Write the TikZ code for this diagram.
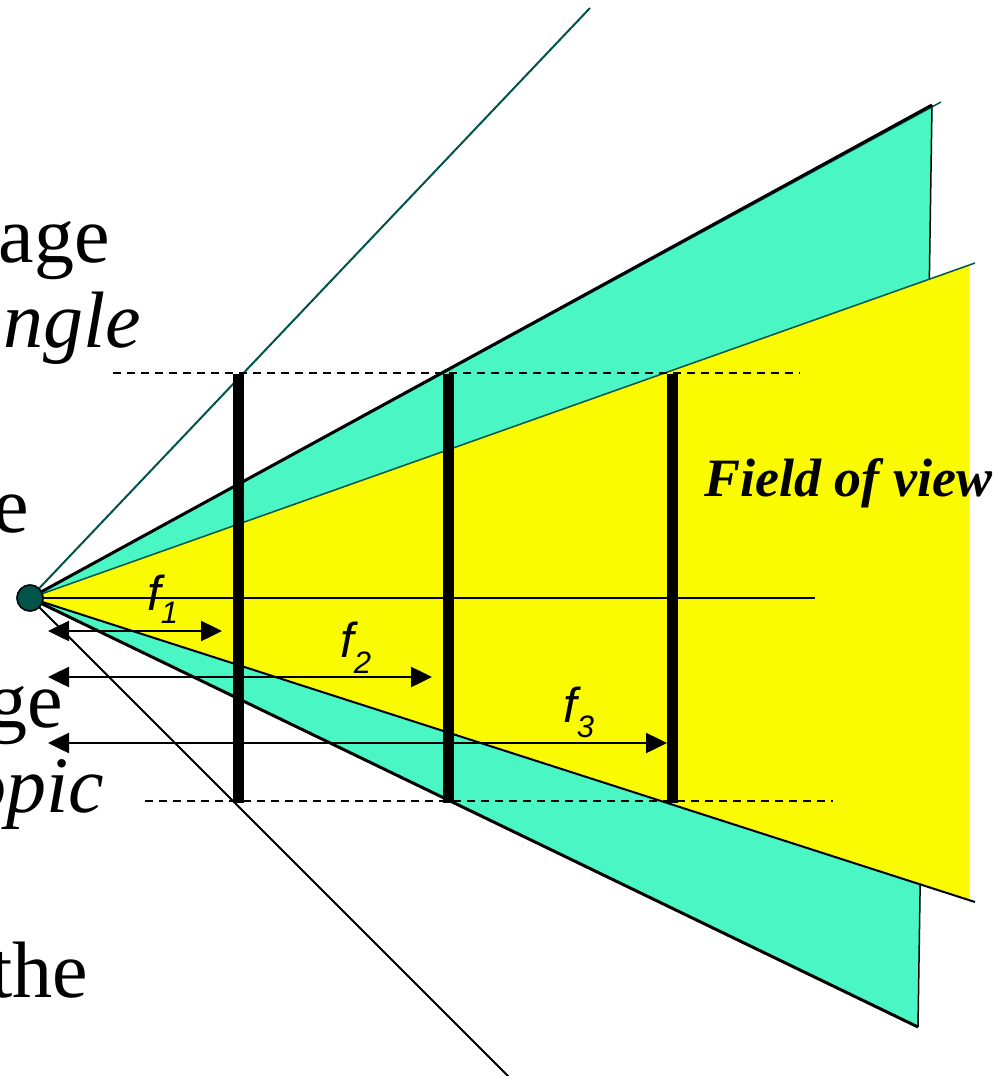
\documentclass[tikz,border=0pt]{standalone}
\usepackage{fontspec}
\setmainfont{Liberation Serif}
\newfontfamily\flabelfont{Liberation Sans}
\usetikzlibrary{arrows.meta}
\definecolor{fovteal}{RGB}{74,246,196}
\definecolor{fovyellow}{RGB}{250,250,0}
\definecolor{fovdark}{RGB}{0,84,74}

\begin{document}
\begin{tikzpicture}[x=1pt,y=-1pt,
  sidetext/.style={anchor=base east,inner sep=0pt,font=\fontsize{80}{80}\selectfont},
  flabel/.style={anchor=base west,inner sep=0pt,font=\flabelfont\itshape\fontsize{49}{49}\selectfont},
  lensbar/.style={line width=11pt},
  dimarrow/.style={line width=2.5pt,{Triangle[length=21pt,width=20pt]}-{Triangle[length=21pt,width=20pt]}},
  guide/.style={line width=1.5pt,dash pattern=on 8pt off 6pt}]
\path[use as bounding box] (0,0) rectangle (1005,1076);
% apex and fan corners
\coordinate (O) at (30,598);
\coordinate (wtop) at (932,105);
\coordinate (wtopx) at (941,102);
\coordinate (wbot) at (918,1027);
\coordinate (ntop) at (975,263);
\coordinate (nbot) at (975,902);
\coordinate (ytop) at (969,265);
\coordinate (ybot) at (969,899);
\coordinate (rayup) at (590,8);
\coordinate (raydown) at (512,1080);
\coordinate (axisend) at (815,598);
% fans
\fill[fovteal] (O) -- (wtop) -- (wbot) -- cycle;
\draw[line width=1.5pt] (wtop) -- (wbot);
\fill[fovyellow] (O) -- (ytop) -- (ybot) -- cycle;
\draw[fovdark,line width=1.5pt] (O) -- (wtopx);
\draw[line width=3pt] (O) -- (wtop);
\draw[line width=3pt] (O) -- (wbot);
\draw[fovdark,line width=1.5pt] (O) -- (ntop);
\draw[line width=2pt] (O) -- (nbot);
% outer rays and axis
\draw[fovdark,line width=2pt] (O) -- (rayup);
\draw[line width=2pt] (O) -- (raydown);
\draw[line width=2.5pt] (O) -- (axisend);
% guides
\coordinate (gtl) at (113,373); \coordinate (gtr) at (800,373);
\coordinate (gbl) at (145,801); \coordinate (gbr) at (833,801);
\draw[guide] (gtl) -- (gtr);
\draw[guide] (gbl) -- (gbr);
% image planes
\foreach \x/\n in {238/1,448/2,672/3} {
  \coordinate (bartop\n) at (\x,374);
  \coordinate (barbot\n) at (\x,803);
  \draw[lensbar] (bartop\n) -- (barbot\n);
}
% focal lengths
\foreach \y/\xe/\n in {631/222/1,677/432/2,743/667/3} {
  \coordinate (fs\n) at (48,\y);
  \coordinate (fe\n) at (\xe,\y);
  \draw[dimarrow] (fs\n) -- (fe\n);
}
\node[flabel] (fone) at (147,610) {f\raisebox{-13pt}{\fontsize{31}{31}\selectfont 1}};
\node[flabel] (ftwo) at (340,657) {f\raisebox{-16pt}{\fontsize{31}{31}\selectfont 2}};
\node[flabel] (fthree) at (563,722) {f\raisebox{-15pt}{\fontsize{31}{31}\selectfont 3}};
\node[draw=fovdark,fill=fovdark,line width=1.5pt,circle,minimum size=26pt,inner sep=0pt] (dot) at (O) {};
\node[draw=black,line width=1.5pt,circle,minimum size=26pt,inner sep=0pt] (dotrim) at (O) {};
% labels
\node[anchor=base west,inner sep=0pt,font=\bfseries\itshape\fontsize{54}{54}\selectfont] (fov) at (704,496) {Field of view};
\node[sidetext] (tage) at (110,262) {age};
\node[sidetext] (tangle) at (141,347) {\itshape angle};
\node[sidetext] (te) at (29,532) {e};
\node[sidetext] (tge) at (63,727) {ge};
\node[sidetext] (topic) at (104,812) {\itshape opic};
\node[sidetext] (tthe) at (88,997) {the};
\end{tikzpicture}
\end{document}
